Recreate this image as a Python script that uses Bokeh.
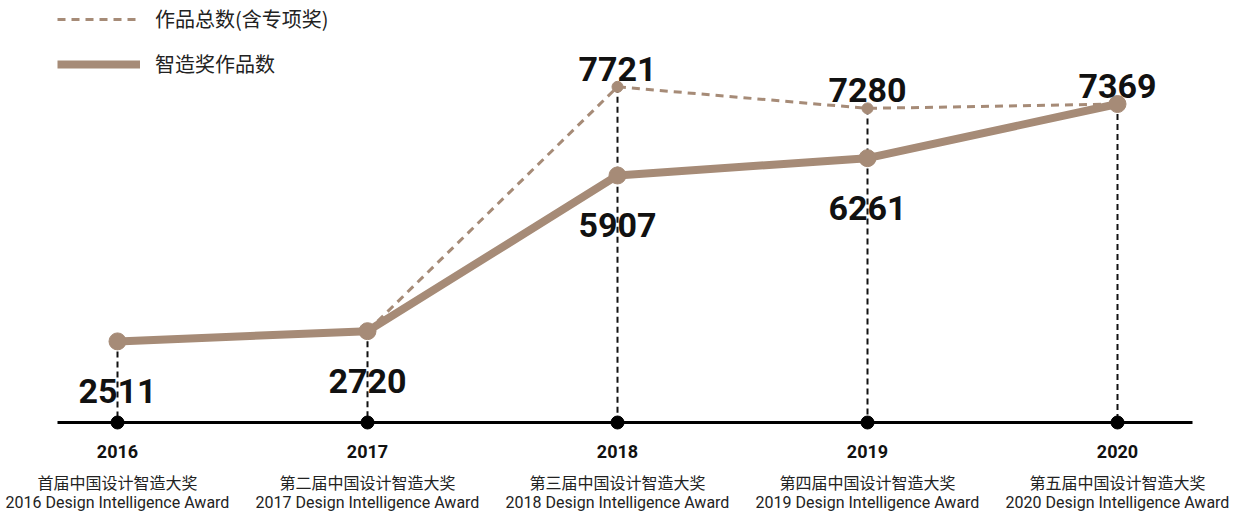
from bokeh.plotting import figure
from bokeh.models import ColumnDataSource, Range1d, Legend, LegendItem
from bokeh.core.properties import value
from bokeh.embed import file_html
from bokeh.resources import INLINE
import numpy as np

# ---- data ----
years = [2016, 2017, 2018, 2019, 2020]
winners = [2511, 2720, 5907, 6261, 7369]           # 智造奖作品数
totals = [np.nan, 2720, 7721, 7280, 7369]          # 作品总数(含专项奖)
year_labels = ["2016", "2017", "2018", "2019", "2020"]
cn_labels = ["首届中国设计智造大奖", "第二届中国设计智造大奖", "第三届中国设计智造大奖",
             "第四届中国设计智造大奖", "第五届中国设计智造大奖"]
en_labels = ["2016 Design Intelligence Award", "2017 Design Intelligence Award",
             "2018 Design Intelligence Award", "2019 Design Intelligence Award",
             "2020 Design Intelligence Award"]
winner_label_side = ["below", "below", "below", "below", "above"]
total_label_show = [False, False, True, True, False]

# ---- style ----
TAN = "#a68b77"
DARK = "#111111"
BASE = 851
NUM_FONT = "Roboto"
CJK_FONT = "Noto Sans CJK SC"

p = figure(width=1234, height=512, x_range=Range1d(2015.532, 2020.468),
           y_range=Range1d(-991, 9488), output_backend="svg", toolbar_location=None,
           min_border=0, outline_line_color=None)
p.xaxis.visible = False
p.yaxis.visible = False
p.grid.visible = False

# vertical dashed drop lines
tops = np.fmax(np.array(totals, dtype=float), np.array(winners, dtype=float))
p.segment(x0=years, y0=tops, x1=years, y1=[BASE] * len(years),
          line_color=DARK, line_width=2, line_dash="6 4")

# baseline axis
p.segment(x0=[2015.76], y0=[BASE], x1=[2020.30], y1=[BASE], line_color="black", line_width=3)
p.scatter(x=years, y=[BASE] * len(years), size=13, color="black")

# total series (dashed)
tot_line = p.line(x=years, y=totals, line_color=TAN, line_width=3, line_dash="8 6")
p.scatter(x=[y for y, s in zip(years, total_label_show) if s],
          y=[t for t, s in zip(totals, total_label_show) if s], size=11, color=TAN)

# winners series (solid)
win_line = p.line(x=years, y=winners, line_color=TAN, line_width=8)
p.scatter(x=years, y=winners, size=17, color=TAN)

# value labels
above_src = ColumnDataSource(dict(
    x=[y for y, s in zip(years, total_label_show) if s] + [y for y, s in zip(years, winner_label_side) if s == "above"],
    y=[t for t, s in zip(totals, total_label_show) if s] + [w for w, s in zip(winners, winner_label_side) if s == "above"],
    t=[str(int(t)) for t, s in zip(totals, total_label_show) if s] + [str(w) for w, s in zip(winners, winner_label_side) if s == "above"],
))
below_src = ColumnDataSource(dict(
    x=[y for y, s in zip(years, winner_label_side) if s == "below"],
    y=[w for w, s in zip(winners, winner_label_side) if s == "below"],
    t=[str(w) for w, s in zip(winners, winner_label_side) if s == "below"],
))
p.text(x="x", y="y", text="t", source=above_src, text_font=value(NUM_FONT),
       text_font_style="bold", text_font_size="34px", text_color=DARK,
       text_align="center", text_baseline="alphabetic", y_offset=-18)
p.text(x="x", y="y", text="t", source=below_src, text_font=value(NUM_FONT),
       text_font_style="bold", text_font_size="34px", text_color=DARK,
       text_align="center", text_baseline="alphabetic", y_offset=50)

# category labels under the axis
base_y = [BASE] * len(years)
p.text(x=years, y=base_y, text=year_labels, text_font=value(NUM_FONT), text_font_style="bold",
       text_font_size="18px", text_color=DARK, text_align="center", text_baseline="middle", y_offset=29)
p.text(x=years, y=base_y, text=cn_labels, text_font=value(CJK_FONT),
       text_font_size="16px", text_color="#222222", text_align="center", text_baseline="middle", y_offset=59)
p.text(x=years, y=base_y, text=en_labels, text_font=value(NUM_FONT),
       text_font_size="16px", text_color="#222222", text_align="center", text_baseline="middle", y_offset=80)

legend = Legend(items=[LegendItem(label="作品总数(含专项奖)", renderers=[tot_line]),
                       LegendItem(label="智造奖作品数", renderers=[win_line])],
                location=(57, 434), orientation="vertical",
                glyph_width=83, glyph_height=20, label_height=20, label_standoff=15,
                spacing=16, padding=0, margin=0,
                label_text_font=CJK_FONT, label_text_font_size="20px", label_text_color="#222222",
                border_line_alpha=0, background_fill_alpha=0)
p.add_layout(legend)

open("out.html", "w").write(file_html(p, INLINE))
